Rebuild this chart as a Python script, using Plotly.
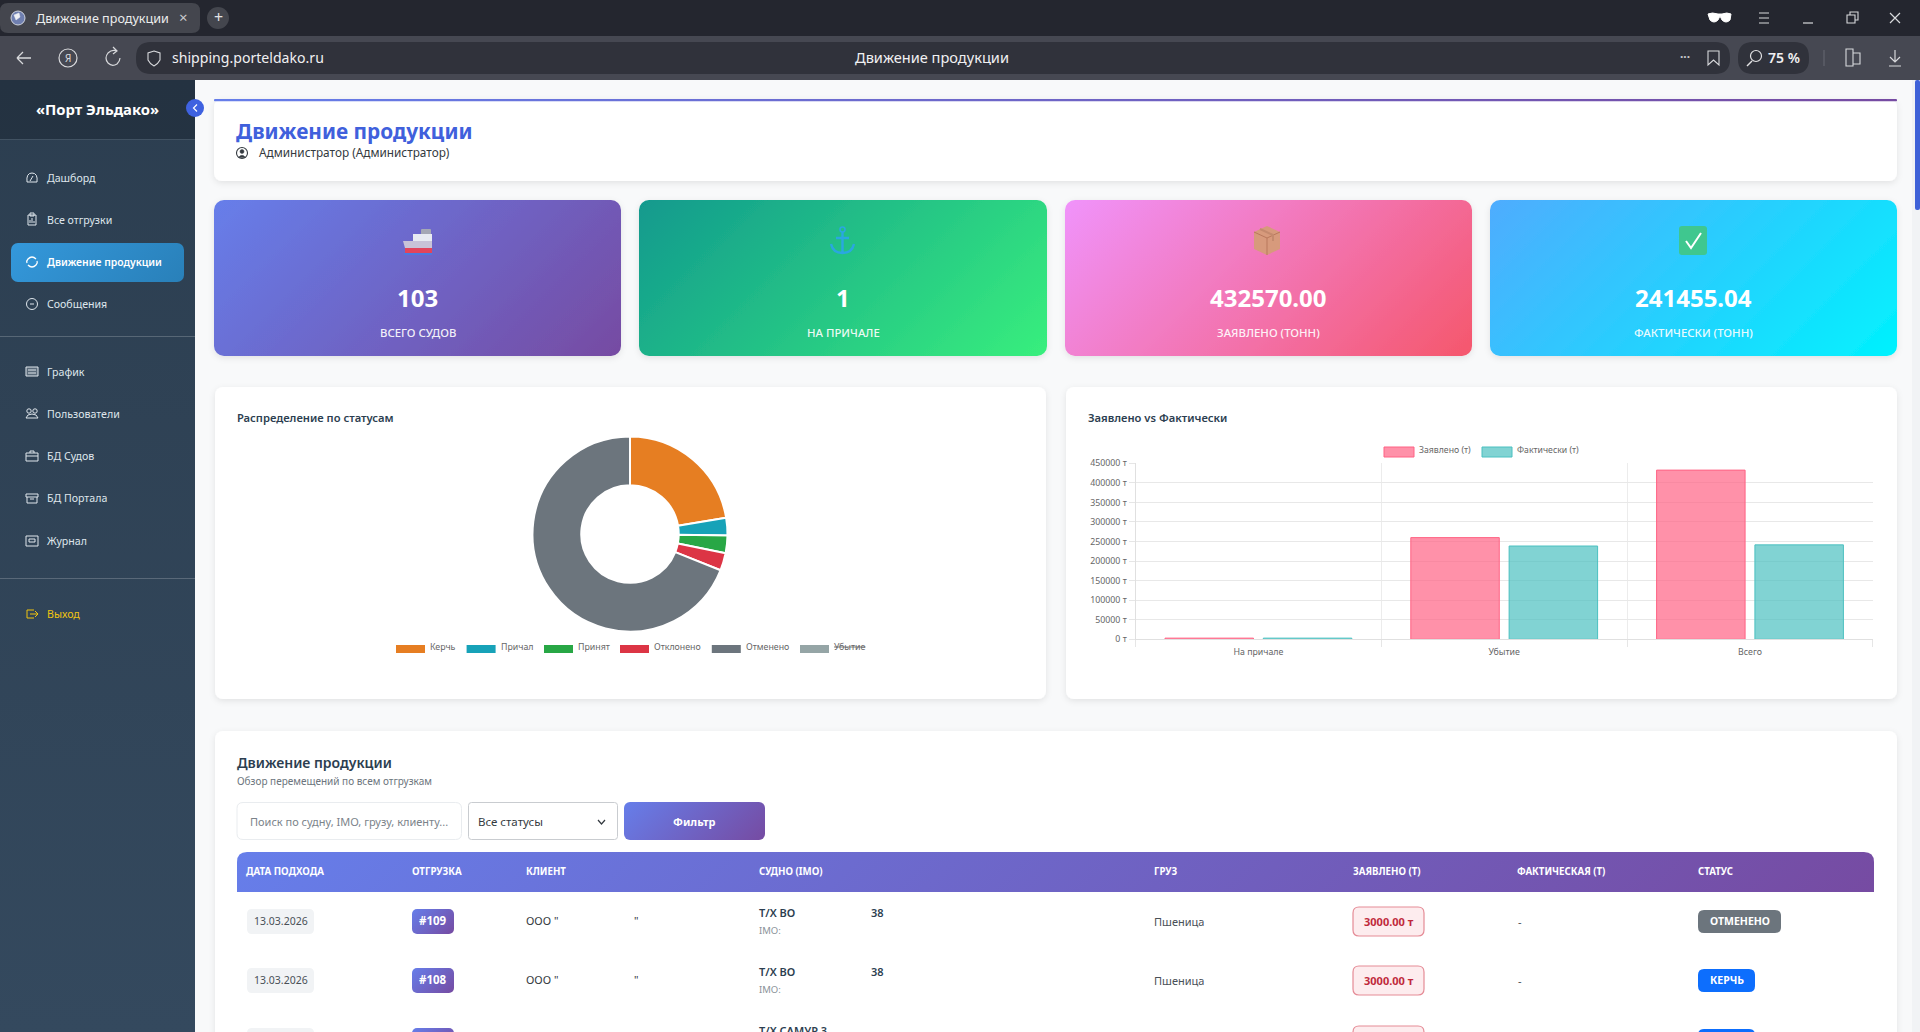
import base64
import plotly.graph_objects as go

# Data

status_labels = ["Керчь", "Причал", "Принят", "Отклонено", "Отменено", "Убытие"]
status_counts = [23, 3, 3, 3, 71, 0]
status_colors = ["#e67e22", "#17a2b8", "#28a745", "#dc3545", "#6c757d", "#95a5a6"]

bar_categories = ["На причале", "Убытие", "Всего"]
declared_tons = [3000, 260000, 432570]
actual_tons = [3000, 238500, 241455.04]
bar_series = ["Заявлено (т)", "Фактически (т)"]
bar_ticks = [0, 50000, 100000, 150000, 200000, 250000, 300000, 350000, 400000, 450000]

kpi_values = ["103", "1", "432570.00", "241455.04"]
kpi_labels = ["ВСЕГО СУДОВ", "НА ПРИЧАЛЕ", "ЗАЯВЛЕНО (ТОНН)", "ФАКТИЧЕСКИ (ТОНН)"]

nav_top = ["Дашборд", "Все отгрузки", "Движение продукции", "Сообщения"]
nav_mid = ["График", "Пользователи", "БД Судов", "БД Портала", "Журнал"]

table_columns = ["ДАТА ПОДХОДА", "ОТГРУЗКА", "КЛИЕНТ", "СУДНО (IMO)", "ГРУЗ",
                 "ЗАЯВЛЕНО (Т)", "ФАКТИЧЕСКАЯ (Т)", "СТАТУС"]
row_dates = ["13.03.2026", "13.03.2026"]
row_ids = ["#109", "#108"]
row_vessels = ["Т/Х ВО", "Т/Х ВО"]
row_cargo = ["Пшеница", "Пшеница"]
row_declared = ["3000.00 т", "3000.00 т"]
row_actual = ["-", "-"]
row_status = ["ОТМЕНЕНО", "КЕРЧЬ"]

# Helpers, everything on the page is in screen pixels

FONT = "Noto Sans"
shapes = []
images = []
notes = []


def txt(x, y, text, size, color, bold=False, anchor="left", weight=None):
    notes.append(dict(x=x, y=y-0.8, xref="x", yref="y", text=text, showarrow=False,
                      xanchor=anchor, yanchor="middle", borderpad=0, borderwidth=0,
                      font=dict(family=FONT, size=size, color=color, weight=weight or (700 if bold else 400))))


def rr(x0, y0, x1, y1, r):
    return (f"M{x0+r},{y0} L{x1-r},{y0} Q{x1},{y0} {x1},{y0+r} L{x1},{y1-r} Q{x1},{y1} {x1-r},{y1} "
            f"L{x0+r},{y1} Q{x0},{y1} {x0},{y1-r} L{x0},{y0+r} Q{x0},{y0} {x0+r},{y0} Z")


def box(x0, y0, x1, y1, r, fill, line=None, width=1):
    shapes.append(dict(type="path", path=rr(x0, y0, x1, y1, r), xref="x", yref="y", layer="above",
                       fillcolor=fill, line=dict(color=line or "rgba(0,0,0,0)", width=width if line else 0)))


def stroke(path, color, width=1.2, fill="rgba(0,0,0,0)"):
    shapes.append(dict(type="path", path=path, xref="x", yref="y", layer="above",
                       fillcolor=fill, line=dict(color=color, width=width)))


def ring(cx, cy, r, color, width=1.2, fill="rgba(0,0,0,0)"):
    shapes.append(dict(type="circle", x0=cx-r, x1=cx+r, y0=cy-r, y1=cy+r, xref="x", yref="y",
                       layer="above", fillcolor=fill, line=dict(color=color, width=width)))


def panel(x0, y0, x1, y1, r, c0, c1=None, angle=135, shadow=False, top_only=False):
    # rounded panel drawn as an svg picture, plotly shapes have no diagonal gradients
    w, h = x1 - x0, y1 - y0
    pad = 14 if shadow else 0
    if angle == 135:
        ln = (w + h) / 2 ** 0.5
        d = ln / 2 / 2 ** 0.5
        gx0, gy0, gx1, gy1 = w/2 - d, h/2 - d, w/2 + d, h/2 + d
    else:
        gx0, gy0, gx1, gy1 = 0, 0, 0, h
    fill = c0
    defs = ""
    if c1:
        fill = "url(#g)"
        defs += (f'<linearGradient id="g" gradientUnits="userSpaceOnUse" x1="{gx0}" y1="{gy0}" x2="{gx1}" y2="{gy1}">'
                 f'<stop offset="0" stop-color="{c0}"/><stop offset="1" stop-color="{c1}"/></linearGradient>')
    if shadow:
        defs += ('<filter id="s" x="-5%" y="-20%" width="110%" height="140%">'
                 '<feDropShadow dx="0" dy="2" stdDeviation="3" flood-color="#000" flood-opacity="0.09"/></filter>')
    extra = ' filter="url(#s)"' if shadow else ""
    if top_only:
        shape = f'<path d="M0,{h} L0,{r} Q0,0 {r},0 L{w-r},0 Q{w},0 {w},{r} L{w},{h} Z" fill="{fill}"/>'
    else:
        shape = f'<rect width="{w}" height="{h}" rx="{r}" fill="{fill}"{extra}/>'
    svg = (f'<svg xmlns="http://www.w3.org/2000/svg" width="{w+2*pad}" height="{h+2*pad}" '
           f'viewBox="{-pad} {-pad} {w+2*pad} {h+2*pad}" preserveAspectRatio="none"><defs>{defs}</defs>{shape}</svg>')
    src = "data:image/svg+xml;base64," + base64.b64encode(svg.encode()).decode()
    images.append(dict(source=src, xref="x", yref="y", x=x0-pad, y=y0-pad, sizex=w+2*pad, sizey=h+2*pad,
                       sizing="stretch", xanchor="left", yanchor="top", layer="below"))


# Browser chrome

panel(0, 0, 1920, 36, 0, "#24262f")
panel(0, 36, 1920, 80, 0, "#464852")
box(0, 3, 200, 33, 8, "#44464e")
ring(18, 18, 7, "#cfd3dc", 1, "#6f7fb0")
stroke("M14,15 L19,13 L20,17 L16,20 Z", "#eef0f5", 0.5, "#eef0f5")
txt(36, 18.8, "Движение продукции", 12.6, "#eceded")
txt(183, 18, "×", 15, "#c9cacd", anchor="center")
ring(218, 18, 11, "#44464e", 0, "#44464e")
txt(218, 18, "+", 16, "#e2e2e4", anchor="center")
stroke("M17,58 L31,58 M17,58 L23,52 M17,58 L23,64", "#d8d9dc", 1.3)
ring(68, 58, 9, "#d8d9dc", 1.2)
txt(68, 58.8, "Я", 10, "#d8d9dc", anchor="center")
stroke("M117,51 Q112,49 108,53 Q104,58 108,63 Q112,67 117,64 Q120,61 120,58 M113,47 L117,51 L113,54", "#d8d9dc", 1.2)
box(136, 42, 1730, 74, 15, "#30323b")
stroke("M154,51 L160,53 L160,60 Q158,64 154,66 Q150,64 148,60 L148,53 Z", "#d8d9dc", 1.1)
txt(172, 58.4, "shipping.porteldako.ru", 14.1, "#f0f0f2")
txt(932, 58.2, "Движение продукции", 14.6, "#f0f0f2", anchor="center")
txt(1685, 56.8, "···", 12, "#c9cacd", True, "center")
stroke("M1708,51 L1719,51 L1719,65 L1713.5,60 L1708,65 Z", "#d8d9dc", 1.1)
box(1738, 42, 1809, 74, 15, "#30323b")
ring(1756, 56, 5.5, "#e2e2e4", 1.2)
stroke("M1752,61 L1747,66", "#e2e2e4", 1.4)
txt(1784, 58.4, "75 %", 14, "#f0f0f2", anchor="center", weight=600)
box(1823.5, 50, 1824.5, 66, 0, "#676973")
stroke("M1846,49 L1853,49 L1853,66 L1846,66 Z M1853,53 L1860,53 L1860,64 L1853,64", "#d8d9dc", 1.1)
stroke("M1895,50 L1895,62 M1890,57 L1895,62 L1900,57 M1889,66 L1901,66", "#d8d9dc", 1.2)
stroke("M1708,14 Q1712,12 1718,14 L1722,14 Q1727,12 1731,14 L1730,20 Q1726,24 1722,20 L1720,16 L1718,20 "
       "Q1714,24 1710,20 Z", "#ffffff", 1, "#ffffff")
stroke("M1759,13 L1769,13 M1759,18 L1769,18 M1759,23 L1769,23", "#d8d9dc", 1.1)
stroke("M1803,23 L1813,23", "#d8d9dc", 1.2)
stroke("M1847,15 L1855,15 L1855,23 L1847,23 Z M1850,15 L1850,12 L1858,12 L1858,20 L1855,20", "#d8d9dc", 1.1)
stroke("M1890,13 L1900,23 M1900,13 L1890,23", "#d8d9dc", 1.2)

# Sidebar

panel(0, 80, 195, 1032, 0, "#2c3e50", "#34495e", angle=180)
box(0, 80, 195, 139, 0, "rgba(0,0,0,0.18)")
box(0, 139, 195, 140, 0, "rgba(255,255,255,0.1)")
txt(97, 110, "«Порт Эльдако»", 14.8, "#ffffff", True, "center")
panel(11, 243, 184, 282, 7, "#3498db", "#2980b9", angle=135)

nav_top_y = [178.8, 220.8, 262.8, 304.8]
nav_mid_y = [372.8, 414.8, 456.8, 498.8, 541.8]
for label, y in zip(nav_top, nav_top_y):
    active = label == "Движение продукции"
    txt(46.5, y, label, 10.4 if active else 10.6, "#ffffff" if active else "#dfe6ec", weight=600 if active else 400)
for label, y in zip(nav_mid, nav_mid_y):
    txt(46.5, y, label, 10.6, "#dfe6ec")
ic = "#dfe6ec"
stroke("M27,182 Q26,173 32,173 Q38,173 37,182 Z M30,181 L33,176", ic, 1)
stroke("M28,215 L36,215 L36,225 L28,225 Z M30,213 L34,213 L34,216 L30,216 Z M30,223 L30,220 M32,223 L32,218 M34,223 L34,221", ic, 1)
stroke("M36,259 Q32,255 28,259 Q26,261 27,263 M28,265 Q32,269 36,265 Q38,263 37,261", "#ffffff", 1.3)
ring(32, 304, 5.5, ic, 1)
stroke("M30,304 L34,304", ic, 1)
stroke("M26,367 L38,367 L38,376 L26,376 Z M28,370 L36,370 M28,373 L36,373", ic, 1, "rgba(223,230,236,0.25)")
ring(29, 411, 2.2, ic, 1)
ring(35, 411, 2.2, ic, 1)
stroke("M26,418 Q27,414 32,414 Q37,414 38,418 Z", ic, 1)
stroke("M26,453 L38,453 L38,461 L26,461 Z M26,456 L38,456 M30,453 L30,451 L34,451 L34,453", ic, 1)
stroke("M26,494 L38,494 L38,497 L26,497 Z M27,497 L27,503 L37,503 L37,497 M30,499 L34,499", ic, 1)
stroke("M26,536 L38,536 L38,546 L26,546 Z M29,539 L35,539 L35,542 L29,542 Z", ic, 1)
box(0, 336, 195, 337, 0, "rgba(255,255,255,0.2)")
box(0, 578, 195, 579, 0, "rgba(255,255,255,0.2)")
txt(46.5, 614.8, "Выход", 10.6, "#f1c40f")
stroke("M34,610 L27,610 L27,618 L34,618 M30,614 L38,614 M35,611 L38,614 L35,617", "#f1c40f", 1)

# Header card

panel(214, 99, 1897, 181, 8, "#ffffff", shadow=True)
panel(214, 99, 1897, 101.5, 1, "#667eea", "#764ba2", angle=135)
ring(195, 108, 9, "#3f62e0", 0, "#3f62e0")
stroke("M197,104.5 L193.5,108 L197,111.5", "#ffffff", 1.2)
txt(236, 132, "Движение продукции", 20.8, "#4060dc", True)
ring(242, 153, 5.5, "#343a40", 1.1)
ring(242, 151.5, 2, "#343a40", 0.5, "#343a40")
stroke("M238.5,157.5 Q242,153 245.5,157.5 Z", "#343a40", 0.5, "#343a40")
txt(259, 153, "Администратор (Администратор)", 11.8, "#343a40")

# KPI cards

kpi_x0 = [214, 639, 1065, 1490]
kpi_x1 = [621, 1047, 1472, 1897]
kpi_gradients = [("#667eea", "#764ba2"), ("#11998e", "#38ef7d"), ("#f093fb", "#f5576c"), ("#4facfe", "#00f2fe")]
for x0, x1, value, label, (c0, c1) in zip(kpi_x0, kpi_x1, kpi_values, kpi_labels, kpi_gradients):
    panel(x0, 200, x1, 356, 10, c0, c1, shadow=True)
    txt((x0+x1)/2, 298, value, 24, "#ffffff", True, "center")
    txt((x0+x1)/2, 333, label, 11.4, "rgba(255,255,255,0.92)", False, "center", weight=500)

# card icons
box(421, 229, 431, 235, 1, "#a5a8b5")
box(413, 234, 432, 241, 0, "#e8ebf2")
stroke("M403,241 L432,241 L432,248 L405,248 Z", "#c8c3d8", 0, "#c8c3d8")
box(405, 248, 432, 253, 0, "#e2445c")
box(404, 253, 432, 255, 0, "#4a7ae0")
ring(842.5, 229.5, 2.5, "#2aa7e0", 1.6)
stroke("M842.5,232 L842.5,253 M836,238 L849,238 M831,244 Q833,253 842.5,253 Q852,253 854,244", "#2aa7e0", 2.4)
stroke("M1267,226 L1280,232 L1280,249 L1267,255 L1254,249 L1254,232 Z", "#d79a7c", 0, "#d79a7c")
stroke("M1254,232 L1267,238 L1280,232 M1267,238 L1267,255", "#b9785c", 1)
stroke("M1260,229 L1273,235 L1273,241", "#c48a6e", 2)
box(1679, 226, 1707, 255, 3, "#3fc78f")
stroke("M1686,241 L1691,248 L1701,233", "#ffffff", 2)

# Chart cards

panel(215, 387, 1046, 699, 8, "#ffffff", shadow=True)
panel(1066, 387, 1897, 699, 8, "#ffffff", shadow=True)
txt(237, 418, "Распределение по статусам", 11.2, "#2c3e50", weight=600)
txt(1088, 418, "Заявлено vs Фактически", 11.2, "#2c3e50", weight=600)

pie_legend_swatch = [396, 466.6, 544, 620, 711.8, 800]
for label, color, x in zip(status_labels, status_colors, pie_legend_swatch):
    box(x, 645, x+29, 653, 0, color)
    shown = f"<s>{label}</s>" if label == "Убытие" else label
    txt(x+34, 648, shown, 8.8, "#666666")

bar_legend_swatch = [1384, 1482]
bar_fill = ["rgba(255,99,132,0.7)", "rgba(75,192,192,0.7)"]
bar_line = ["rgb(255,99,132)", "rgb(75,192,192)"]
for label, fill, line, x in zip(bar_series, bar_fill, bar_line, bar_legend_swatch):
    box(x, 447, x+30, 457, 0, fill, line, 1)
    txt(x+35, 451, label, 8.7, "#666666")

# Table card

panel(215, 731, 1897, 1060, 8, "#ffffff", shadow=True)
txt(237, 763, "Движение продукции", 14, "#2c3e50", weight=600)
txt(237, 781.5, "Обзор перемещений по всем отгрузкам", 10, "#6c757d")
box(237, 802.5, 461.5, 839.5, 6, "#ffffff", "#e9ecef")
txt(250, 822, "Поиск по судну, IMO, грузу, клиенту...", 11, "#7b838a")
box(468.5, 802.5, 617.5, 839.5, 3, "#ffffff", "#c9ccd0")
txt(478, 822, "Все статусы", 11.5, "#343a40")
stroke("M598,820 L601.5,824 L605,820", "#343a40", 1.2)
panel(624, 802, 765, 840, 6, "#667eea", "#764ba2")
txt(694.5, 822, "Фильтр", 11, "#ffffff", True, "center")

panel(237, 852, 1874, 892, 10, "#667eea", "#764ba2", top_only=True)
col_x = [246, 412, 526, 759, 1154, 1352.5, 1516.5, 1698]
for label, x in zip(table_columns, col_x):
    txt(x, 872, label, 9.7, "#ffffff", True)

row_y = [921.5, 980.5]
status_fill = {"ОТМЕНЕНО": ("#6c757d", 1781), "КЕРЧЬ": ("#0d6efd", 1755)}
for y, date, rid, vessel, cargo, decl, act, stat in zip(row_y, row_dates, row_ids, row_vessels, row_cargo,
                                                        row_declared, row_actual, row_status):
    box(247, y-12.5, 314, y+12.5, 5, "#f1f3f5")
    txt(280.5, y, date, 10.5, "#495057", False, "center")
    panel(412, y-12.5, 454, y+12.5, 5, "#667eea", "#764ba2")
    txt(433, y, rid, 11.5, "#ffffff", True, "center")
    txt(526, y, 'ООО "', 11, "#343a40")
    txt(634, y, '"', 11, "#343a40")
    txt(759, y-8, vessel, 11, "#2c3e50", weight=600)
    txt(871, y-8, "38", 11, "#2c3e50", weight=600)
    txt(759, y+10, "IMO:", 9.5, "#8a9299")
    txt(1154, y+1, cargo, 11, "#495057")
    box(1353, y-14.5, 1424, y+14.5, 6, "#fdecee", "#e58b96", 1.2)
    txt(1388.5, y+0.5, decl, 11, "#c0293b", True, "center")
    txt(1518, y+1, act, 11, "#495057")
    fill, right = status_fill[stat]
    box(1698, y-11.5, right, y+11.5, 6, fill)
    txt((1698+right)/2, y, stat, 10.5, "#ffffff", True, "center")

# third row, only its top edge fits on the page
box(247, 1028, 314, 1050, 5, "#f1f3f5")
panel(412, 1028, 454, 1050, 5, "#667eea", "#764ba2")
txt(759, 1031.5, "Т/Х САМУР 3", 11, "#2c3e50", weight=600)
box(1353, 1026, 1424, 1050, 6, "#fdecee", "#e58b96", 1.2)
box(1698, 1029, 1755, 1050, 6, "#0d6efd")

# Scrollbar
box(1912, 80, 1920, 1032, 0, "#f1f3f5")
box(1915, 80, 1920, 210, 2, "#3f62d8")

# Charts

fig = go.Figure()

# invisible page layer, carries the pictures, shapes and texts
fig.add_trace(go.Scatter(x=[0, 1920], y=[0, 1032], mode="markers", marker=dict(opacity=0), hoverinfo="skip",
                         showlegend=False, xaxis="x", yaxis="y"))

fig.add_trace(go.Pie(labels=status_labels, values=status_counts, hole=0.5, sort=False, direction="clockwise",
                     rotation=0, textinfo="none", showlegend=False,
                     marker=dict(colors=status_colors, line=dict(color="#ffffff", width=2)),
                     domain=dict(x=[532.5/1920, 727.5/1920], y=[1-631.5/1032, 1-436.5/1032])))

series = [declared_tons, actual_tons]
for name, values, fill, line in zip(bar_series, series, bar_fill, bar_line):
    fig.add_trace(go.Bar(x=bar_categories, y=values, name=name, xaxis="x2", yaxis="y2", showlegend=False,
                         marker=dict(color=fill, line=dict(color=line, width=1))))

fig.update_layout(
    width=1920, height=1032, autosize=False, margin=dict(l=0, r=0, t=0, b=0, autoexpand=False),
    paper_bgcolor="#f8f9fa", plot_bgcolor="rgba(0,0,0,0)", hovermode=False,
    barmode="group", bargap=0.2, bargroupgap=0.1,
    font=dict(family=FONT),
    shapes=shapes, images=images, annotations=notes,
    xaxis=dict(range=[0, 1920], domain=[0, 1], visible=False, fixedrange=True),
    yaxis=dict(range=[1032, 0], domain=[0, 1], visible=False, fixedrange=True),
    xaxis2=dict(domain=[1135.5/1920, 1872.9/1920], anchor="y2", tickson="boundaries", ticks="outside", ticklen=7,
                ticklabelstandoff=4, tickcolor="#e6e6e6", gridcolor="#ececec", showgrid=True, showline=True,
                linecolor="#e0e0e0", tickfont=dict(family=FONT, size=8.8, color="#666666"), fixedrange=True),
    yaxis2=dict(domain=[1-639.3/1032, 1-463.3/1032], anchor="x2", range=[0, 450000], tickmode="array",
                tickvals=bar_ticks, ticktext=[f"{v} т" for v in bar_ticks], ticks="outside", ticklen=6,
                tickcolor="#e6e6e6", gridcolor="#e8e8e8", showline=True, linecolor="#e0e0e0", zeroline=False,
                tickfont=dict(family=FONT, size=8.8, color="#666666"), fixedrange=True),
)

fig.write_html("out.html", config=dict(displayModeBar=False),
               post_script="document.body.style.margin='0';document.body.style.overflow='hidden';")
